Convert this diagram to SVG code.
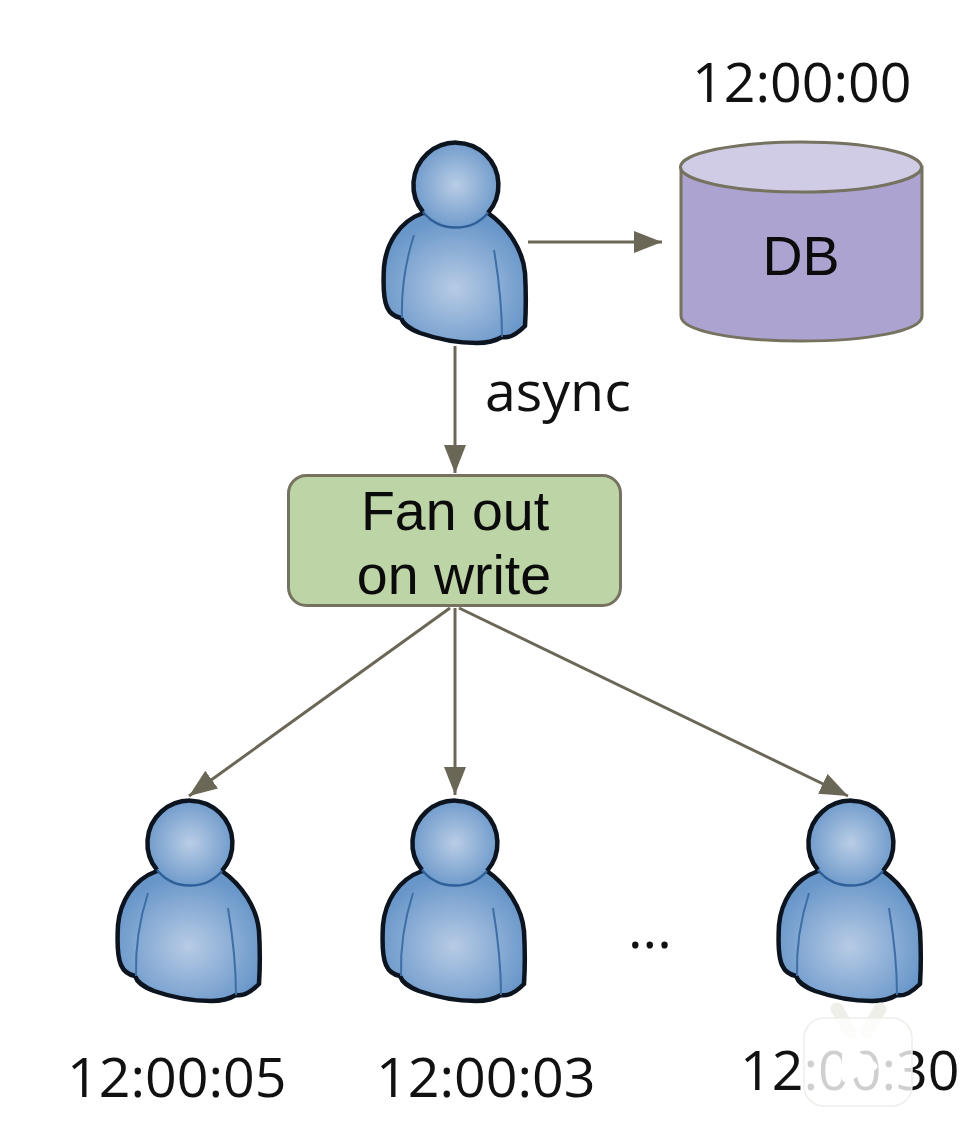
<svg xmlns="http://www.w3.org/2000/svg" width="978" height="1140" viewBox="0 0 978 1140">
<style>
.t{font-family:"Open Sans","Noto Sans",sans-serif;font-size:55.5px;fill:#111}
.a{font-family:"Liberation Sans",Arial,sans-serif;font-size:55.5px;fill:#0b0b0b;text-anchor:middle}
.c{stroke:#6b6757;stroke-width:3;fill:none}
</style>
<defs>
<marker id="arr" markerUnits="userSpaceOnUse" markerWidth="30" markerHeight="24" refX="28" refY="11" orient="auto">
<path d="M0 0L28 11L0 22Z" fill="#6b6757"/>
</marker>
<radialGradient id="gh" cx="0.5" cy="0.5" r="0.55"><stop offset="0" stop-color="#b9cde6"/><stop offset="1" stop-color="#6a97c9"/></radialGradient>
<radialGradient id="gb" cx="0.5" cy="0.58" r="0.55"><stop offset="0" stop-color="#b7cbe5"/><stop offset="1" stop-color="#6896c9"/></radialGradient>
<g id="person">
<path d="M423 213C398 222 386 245 384 267C383 285 383 298 387 307C390 314 396 317 401 318C403 324 408 328 420 333C440 340 460 343 477 343C490 343 497 340 502 337C510 339 519 332 525 326C526 310 526 290 525 273C523 250 508 227 488 213Z" fill="url(#gb)" stroke="#0c1420" stroke-width="4.500" stroke-linejoin="round"/>
<path d="M414 235C406 260 401 285 402 318M494 250C499 280 502 310 502 337" fill="none" stroke="#3d6ea6" stroke-width="2"/>
<circle cx="456" cy="185" r="42.500" fill="url(#gh)"/>
<path d="M423 212A42.500 42.500 0 1 1 488 213" fill="none" stroke="#0c1420" stroke-width="4.500"/>
<path d="M423 212A42.500 42.500 0 0 0 488 213" fill="none" stroke="#2f5f98" stroke-width="2.500"/>
</g>
</defs>
<rect width="978" height="1140" fill="#fff"/>
<g id="connectors">
<path class="c" d="M528 242H662" marker-end="url(#arr)"/>
<path class="c" d="M455 346V473" marker-end="url(#arr)"/>
<path class="c" d="M450 608L189 796" marker-end="url(#arr)"/>
<path class="c" d="M455 608V795" marker-end="url(#arr)"/>
<path class="c" d="M459 608L848 796" marker-end="url(#arr)"/>
</g>
<g id="user-top"><use href="#person"/></g>
<g id="db">
<path d="M681 167V316C681 331 735 341 801 341C868 341 922 331 922 316V167Z" fill="#ada3d1" stroke="#75725f" stroke-width="3"/>
<ellipse cx="801" cy="167" rx="120.500" ry="25" fill="#d0cce6" stroke="#75725f" stroke-width="3"/>
<text class="a" x="801" y="275">DB</text>
</g>
<text class="t" x="692" y="102">12:00:00</text>
<text class="t" x="485" y="411">async</text>
<g id="fanout">
<rect x="288.500" y="475.500" width="332" height="130" rx="18" fill="#bdd4a6" stroke="#75725f" stroke-width="3"/>
<text class="a" x="455" y="530">Fan out</text>
<text class="a" x="454" y="594">on write</text>
</g>
<g id="user-left"><use href="#person" x="-266" y="658"/></g>
<g id="user-mid"><use href="#person" x="-1" y="658"/></g>
<g id="user-right"><use href="#person" x="395" y="658"/></g>
<text class="t" x="628" y="948">...</text>
<text class="t" x="67" y="1097">12:00:05</text>
<text class="t" x="376" y="1097">12:00:03</text>
<text class="t" x="740" y="1090">12:00:30</text>
<g id="watermark">
<path d="M837 1009L850 1032M880 1009L867 1032" stroke="#efefea" stroke-width="13" stroke-linecap="round"/>
<rect x="804" y="1018" width="108" height="88" rx="20" fill="#fff" fill-opacity="0.8" stroke="#eeeeea" stroke-width="1.500"/>
<path d="M842 1048Q842 1041 848 1045L875 1062Q880 1067 875 1070L848 1081Q842 1084 842 1078Z" fill="#fff"/>
</g>
</svg>
